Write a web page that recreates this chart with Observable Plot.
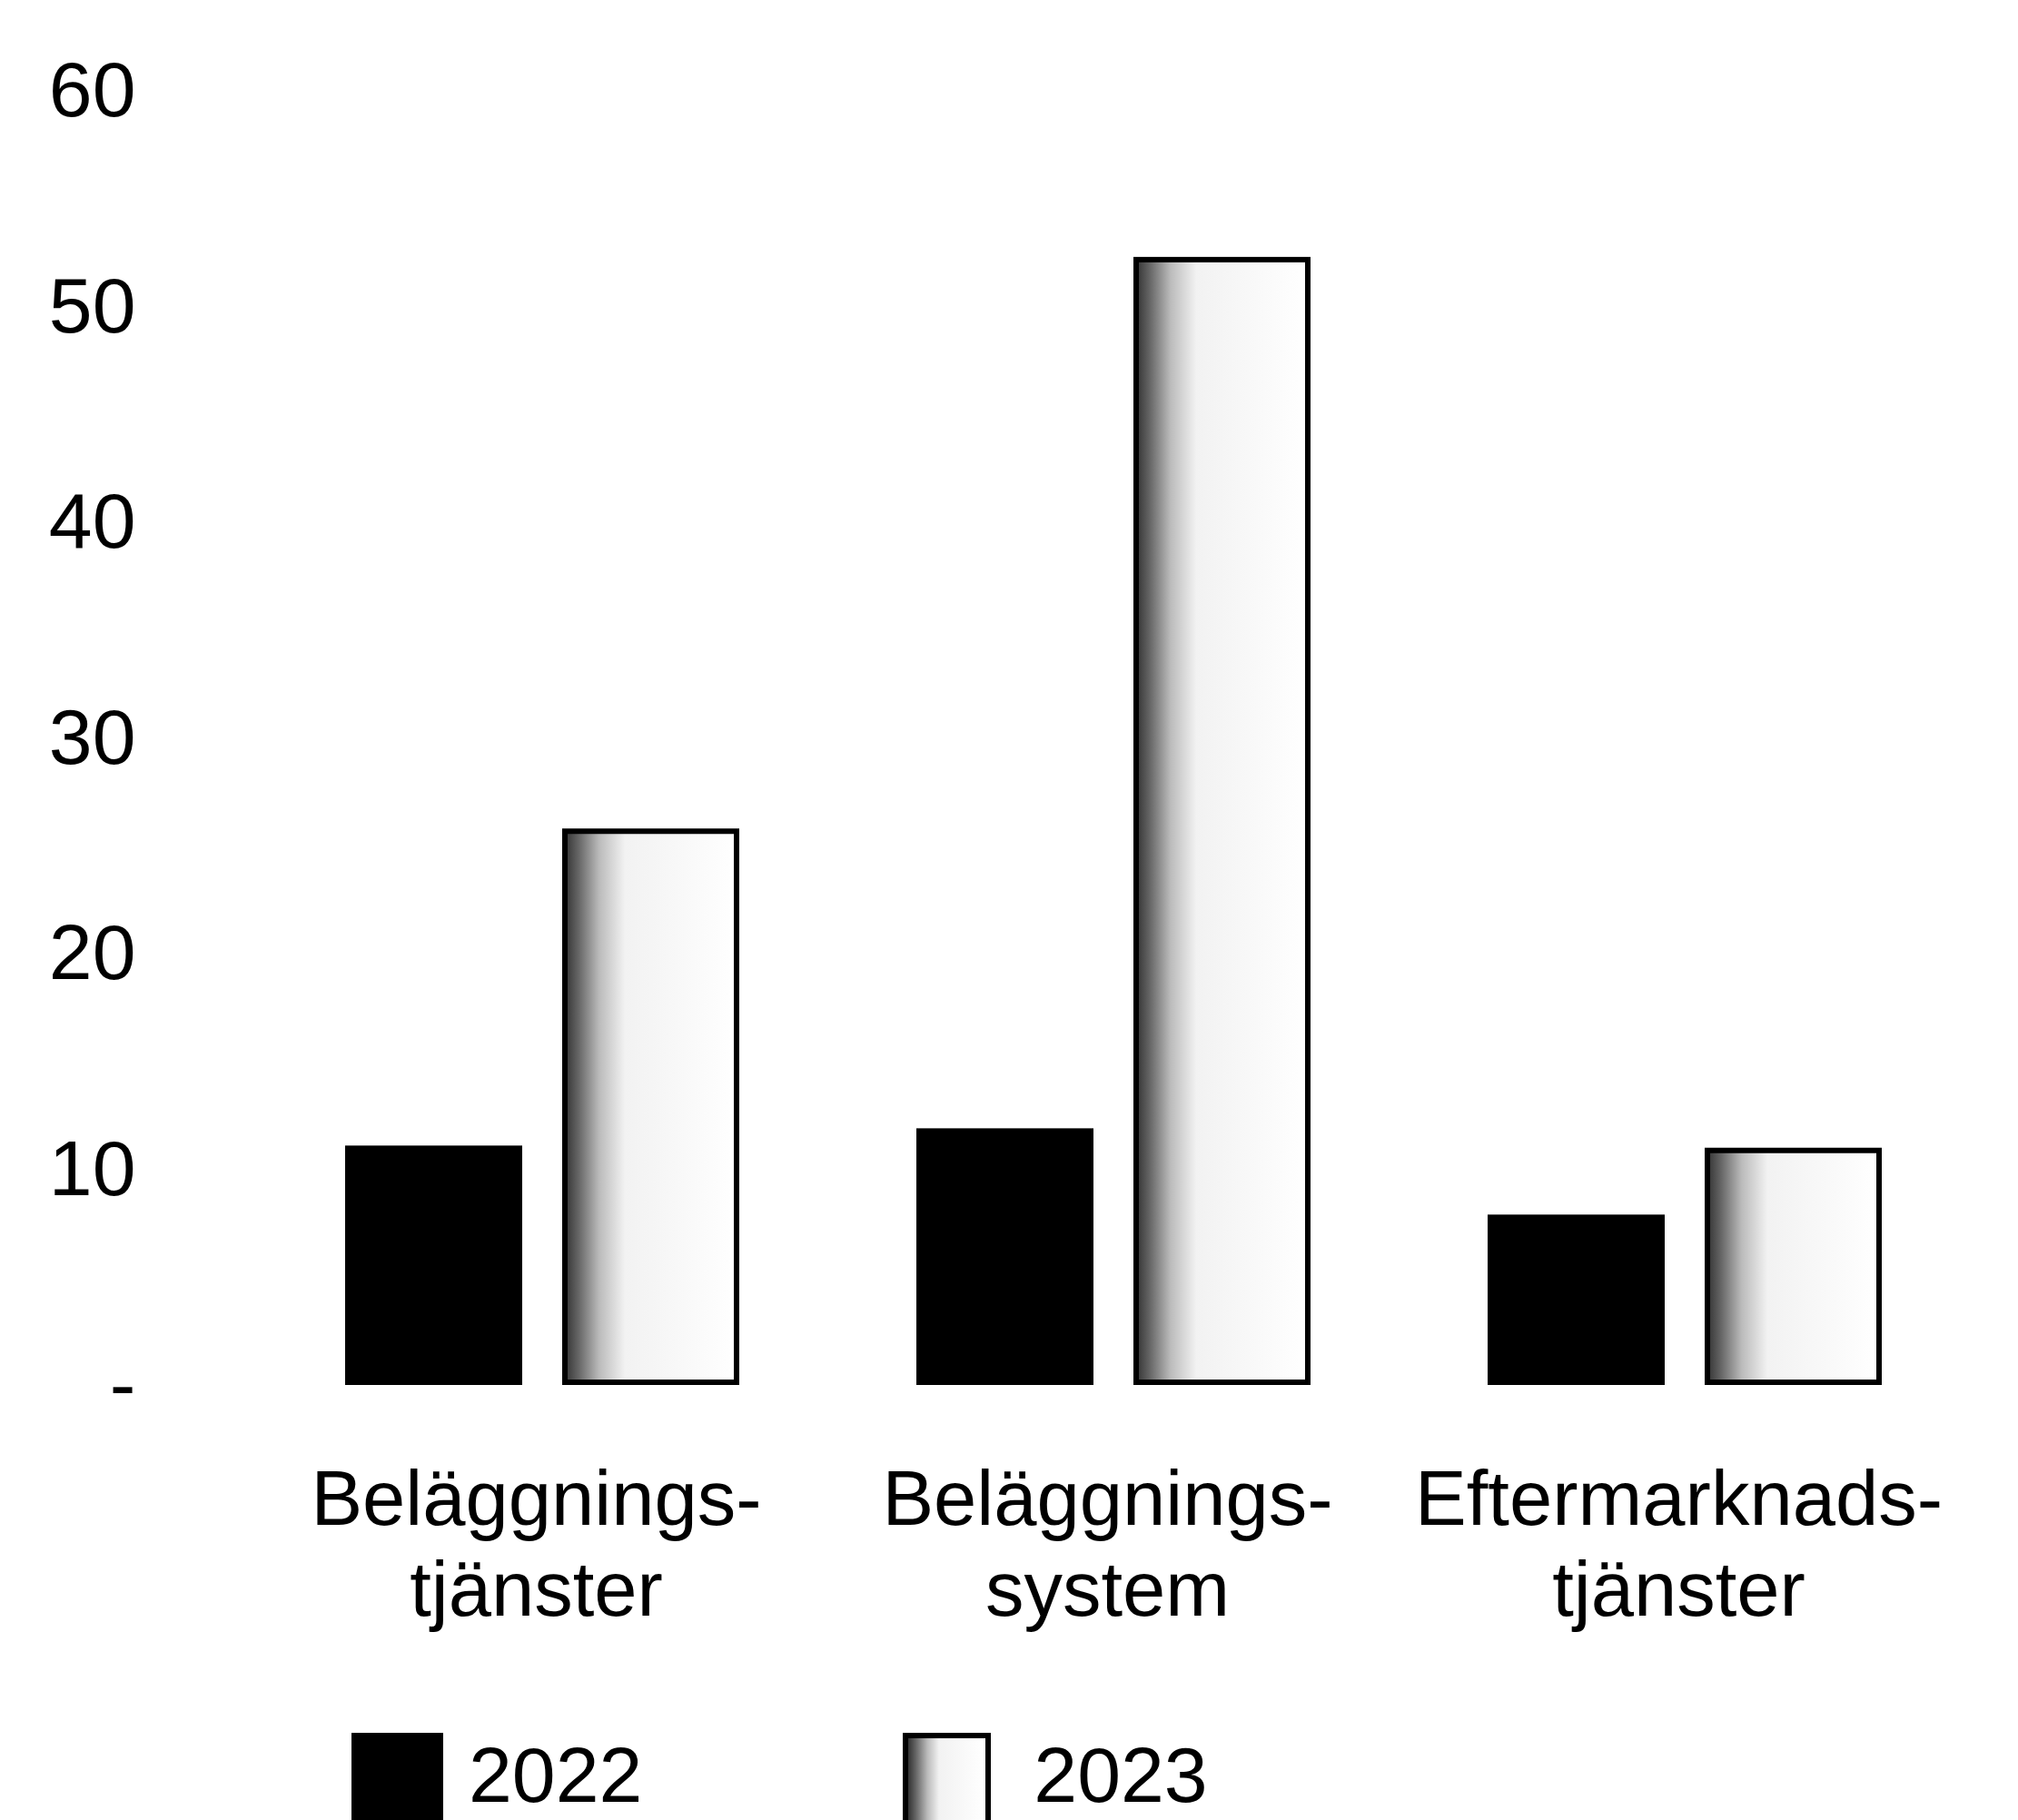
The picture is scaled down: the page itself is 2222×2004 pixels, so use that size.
<!DOCTYPE html>
<html>
<head>
<meta charset="utf-8">
<script src="https://cdn.jsdelivr.net/npm/d3@7"></script>
<script src="https://cdn.jsdelivr.net/npm/@observablehq/plot@0.6"></script>
<style>
  html, body { margin: 0; padding: 0; background: #fff; }
  body { width: 2222px; height: 2004px; overflow: hidden; font-family: "Liberation Sans", Arial, sans-serif; }
  #legend { display: flex; align-items: flex-start; margin-top: 48px; padding-left: 387px; }
  .sw { width: 101px; height: 96px; box-sizing: border-box; }
  .sw2022 { background: #000; }
  .sw2023 { width: 97px; border: 6px solid #000; border-bottom: none; background: linear-gradient(to right, #333 0%, #666 10%, #bbb 25%, #f2f2f2 40%, #fff 100%); }
  .lab { font-size: 86px; line-height: 0.9; margin-top: 8px; color: #000; }
</style>
</head>
<body>
<div id="chart"></div>
<div id="legend"></div>
<script>
const categories = ["Beläggnings-\ntjänster", "Beläggnings-\nsystem", "Eftermarknads-\ntjänster"];
const years = ["2022", "2023"];
const values2022 = [11.1, 11.9, 7.9];
const values2023 = [25.8, 52.3, 11.0];
const yTicks = [0, 10, 20, 30, 40, 50, 60];
const yTickLabels = ["-", "10", "20", "30", "40", "50", "60"];

const data2022 = categories.map((c, i) => ({category: c, year: years[0], value: values2022[i]}));
const data2023 = categories.map((c, i) => ({category: c, year: years[1], value: values2023[i]}));

const svg = Plot.plot({
  width: 2222,
  height: 1860,
  marginLeft: 378,
  marginRight: 149,
  marginTop: 100,
  marginBottom: 335,
  style: {fontFamily: "Liberation Sans, Arial, sans-serif", color: "#000", background: "#fff"},
  fx: {domain: categories, paddingInner: 0.307, paddingOuter: 0, label: null},
  x: {domain: years, paddingInner: 0.183, paddingOuter: 0, axis: null},
  y: {domain: [0, 60], label: null},
  marks: [
    Plot.barY(data2022, {fx: "category", x: "year", y: "value", fill: "#000"}),
    Plot.barY(data2023, {fx: "category", x: "year", y: "value", fill: "url(#grain)", stroke: "#000", strokeWidth: 6, inset: 3}),
    Plot.axisY({ticks: yTicks, tickFormat: d => yTickLabels[yTicks.indexOf(d)], tickSize: 0, tickPadding: 230, fontSize: 86, label: null, fill: "#000"}),
    Plot.axisFx({anchor: "bottom", tickSize: 0, tickPadding: 82, fontSize: 85, lineHeight: 1.18, dx: -7, label: null, fill: "#000"})
  ]
});

const defs = d3.select(svg).insert("defs", ":first-child");
const g = defs.append("linearGradient").attr("id", "grain").attr("x1", 0).attr("x2", 1).attr("y1", 0).attr("y2", 0);
[[0, "#333"], [0.08, "#666"], [0.2, "#bbb"], [0.35, "#f2f2f2"], [1, "#fff"]].forEach(([o, c]) => g.append("stop").attr("offset", o).attr("stop-color", c));

document.getElementById("chart").appendChild(svg);

const legend = document.getElementById("legend");
legend.innerHTML =
  '<div class="sw sw2022"></div><div class="lab" style="margin-left:28px">' + years[0] + '</div>' +
  '<div class="sw sw2023" style="margin-left:287px"></div><div class="lab" style="margin-left:47px">' + years[1] + '</div>';
</script>
</body>
</html>
